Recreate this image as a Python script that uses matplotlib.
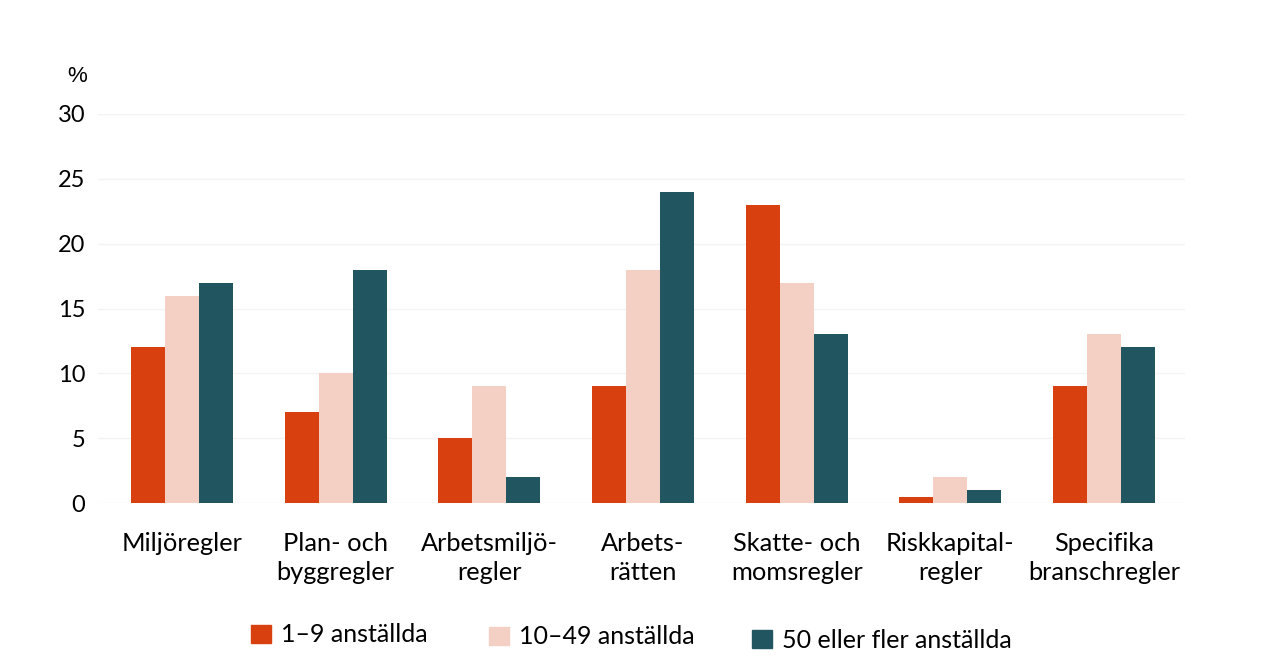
import matplotlib
matplotlib.use("Agg")
import matplotlib.pyplot as plt
import numpy as np
from matplotlib.patches import Patch

categories = ["Miljöregler", "Plan- och\nbyggregler", "Arbetsmiljö-\nregler", "Arbets-\nrätten",
              "Skatte- och\nmomsregler", "Riskkapital-\nregler", "Specifika\nbranschregler"]
series_names = ["1–9 anställda", "10–49 anställda", "50 eller fler anställda"]
small = [12, 7, 5, 9, 23, 0.5, 9]
medium = [16, 10, 9, 18, 17, 2, 13]
large = [17, 18, 2, 24, 13, 1, 12]
yticks = [0, 5, 10, 15, 20, 25, 30]

colors = ["#d84010", "#f4d0c4", "#215660"]

plt.rcParams['font.family'] = ['Lato', 'DejaVu Sans']

W, H = 1262, 670
fig = plt.figure(figsize=(W / 100, H / 100), dpi=100)
ax = fig.add_axes([98 / W, (H - 503) / H, (1185 - 98) / W, (503 - 114) / H])

x = np.arange(len(categories))
bw = 0.221
for i, (vals, c) in enumerate(zip([small, medium, large], colors)):
    ax.bar(x + (i - 1) * bw, vals, width=bw, color=c, zorder=2, linewidth=0)

ax.set_xlim(-0.547, 6.527)
ax.set_ylim(0, 30)
ax.set_yticks(yticks)
ax.set_yticklabels([str(v) for v in yticks], fontsize=17)
ax.yaxis.grid(True, color="#f3f3f3", linewidth=1, zorder=0)
ax.set_xticks(x)
ax.set_xticklabels(categories, fontsize=18.3, linespacing=1.3, va="top")
ax.tick_params(axis="both", length=0)
ax.tick_params(axis="x", pad=21)
ax.tick_params(axis="y", pad=9)
for s in ax.spines.values():
    s.set_visible(False)

fig.text(77 / W, 1 - 76 / H, "%", fontsize=16, ha="center", va="center",
         family=['Liberation Sans', 'DejaVu Sans'])

leg_pos = [(251, 635), (489, 637), (752, 640)]
for (px, py), name, c in zip(leg_pos, series_names, colors):
    fig.legend(handles=[Patch(color=c, label=name)], loc="center left",
               bbox_to_anchor=(px / W, 1 - py / H), frameon=False, fontsize=18,
               handlelength=0.8, handleheight=0.7, handletextpad=0.4, borderpad=0,
               borderaxespad=0)

fig.savefig("out.png", dpi=100, facecolor="white")
